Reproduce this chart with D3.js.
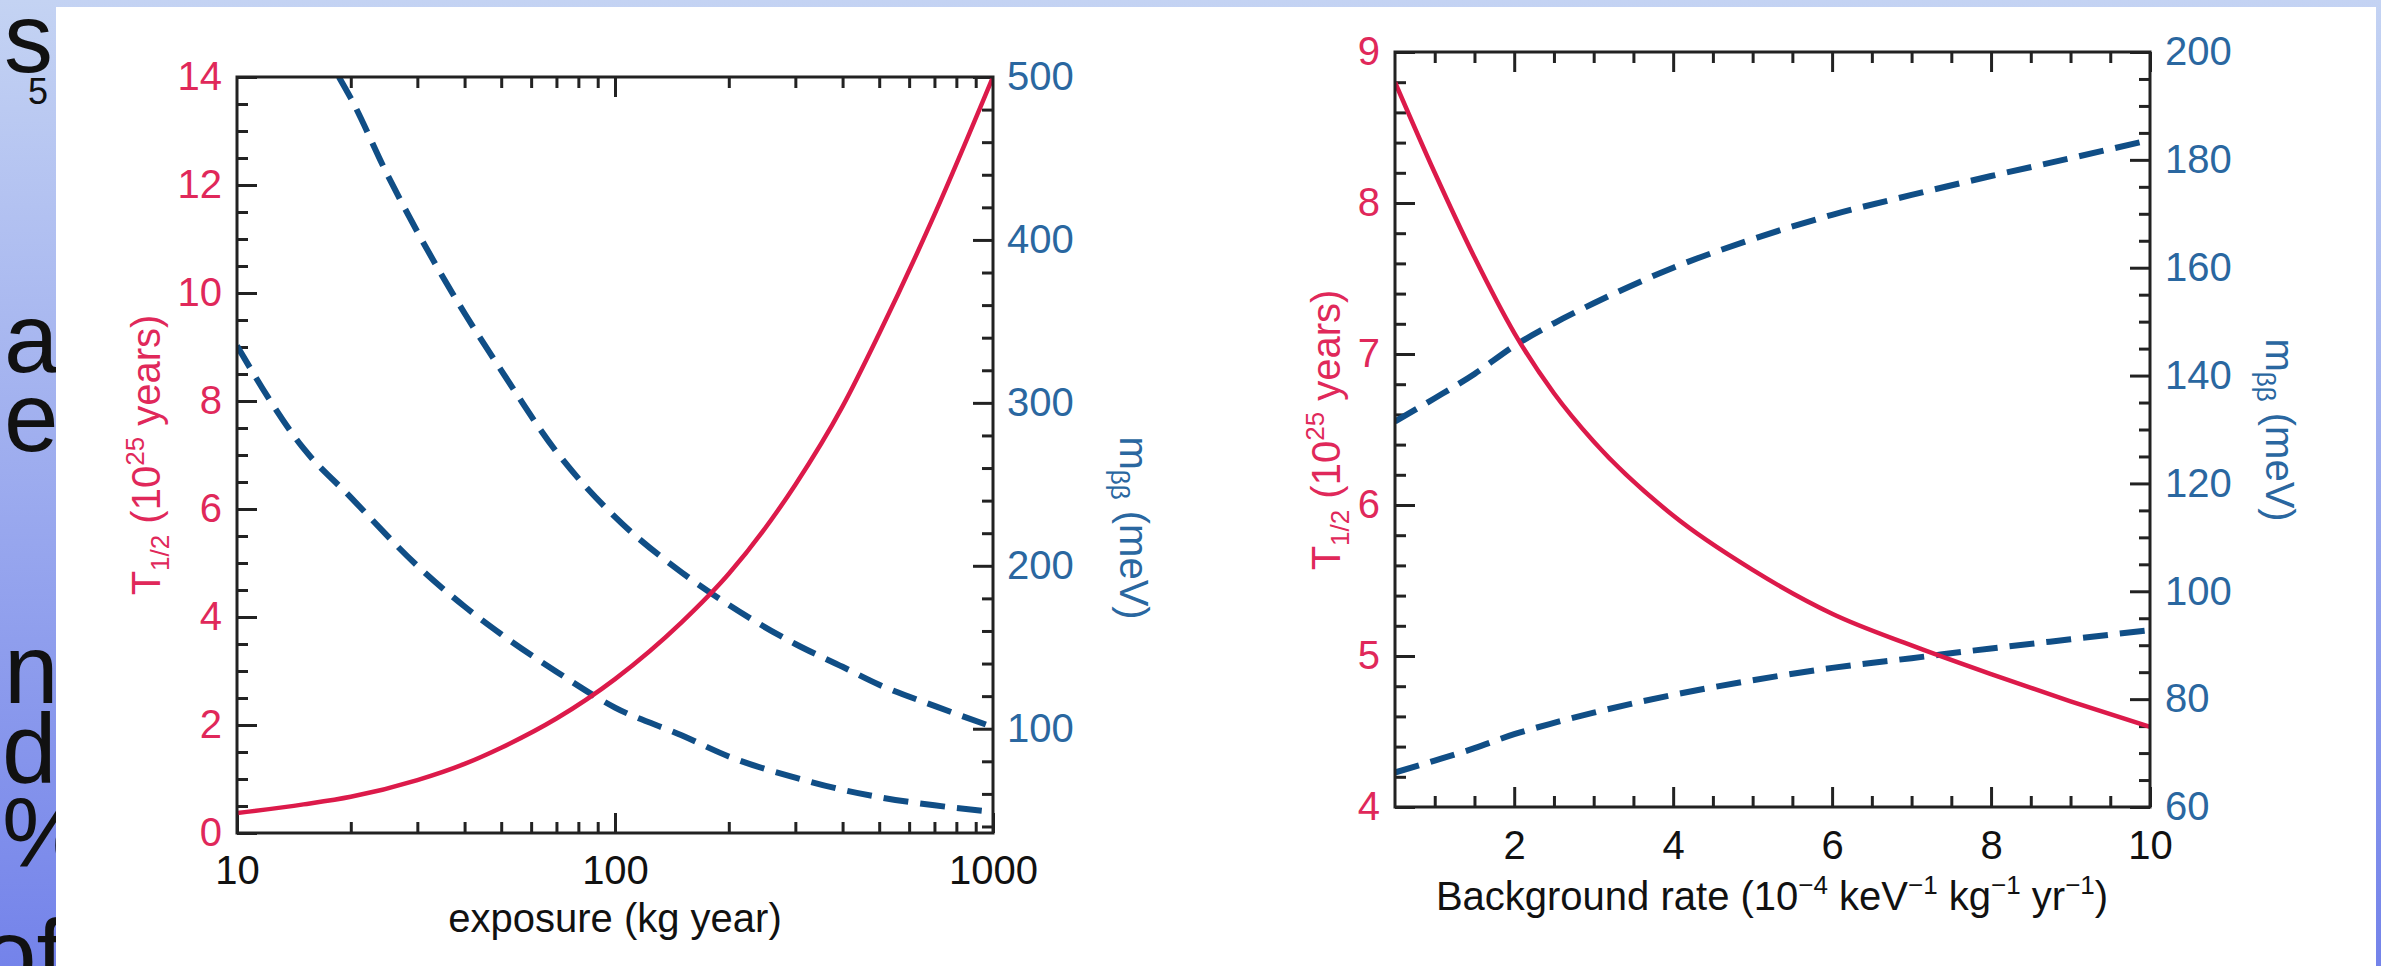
<!DOCTYPE html>
<html>
<head>
<meta charset="utf-8">
<script src="https://cdnjs.cloudflare.com/ajax/libs/d3/7.8.5/d3.min.js"></script>
<style>
  body { margin: 0; background: #fff; }
  svg { display: block; }
  text { font-family: "Liberation Sans", Arial, Helvetica, sans-serif; }
</style>
</head>
<body>
<script>
// left panel: sensitivity vs exposure (log x)
let exposure = [10, 15, 20, 30, 40, 50, 70, 100, 150, 200, 300, 400, 500, 700, 1000];
let halfLifeExp = [0.37, 0.53, 0.67, 0.98, 1.28, 1.58, 2.12, 2.85, 3.9, 4.8, 6.45, 7.9, 9.25, 11.45, 14.0];
let massLowerExp = [335, 272, 242, 200, 175, 158, 135, 113, 96, 83, 70, 62.5, 58, 53, 49];
let exposureUpper = [18.6, 20, 25, 30, 40, 50, 70, 100, 150, 200, 300, 400, 500, 700, 1000];
let massUpperExp = [500, 487, 440, 405, 355, 320, 270, 230, 196, 176, 152, 138, 127, 114, 101];

// right panel: sensitivity vs background rate
let bgRate = [0.5, 1, 1.5, 2, 2.5, 3, 4, 5, 6, 7, 8, 9, 10];
let halfLifeBg = [8.8, 8.2, 7.64, 7.14, 6.74, 6.42, 5.93, 5.57, 5.28, 5.07, 4.88, 4.70, 4.53];
let massUpperBg = [131.5, 135.8, 140.3, 145.5, 149.7, 153.4, 160.0, 165.3, 169.8, 173.5, 177.0, 180.3, 183.7];
let massLowerBg = [66.4, 68.6, 70.9, 73.5, 75.6, 77.5, 80.8, 83.5, 85.8, 87.6, 89.4, 91.1, 92.8];

// tick labels
let exposureTicks = [10, 100, 1000];
let halfLifeTicksExp = [0, 2, 4, 6, 8, 10, 12, 14];
let massTicksExp = [100, 200, 300, 400, 500];
let bgTicks = [2, 4, 6, 8, 10];
let halfLifeTicksBg = [4, 5, 6, 7, 8, 9];
let massTicksBg = [60, 80, 100, 120, 140, 160, 180, 200];

let RED = '#dc1a4a', RED_TXT = '#e0285a', BLUE = '#104e86', BLUE_TXT = '#2a67a0';
let fmt = d3.format('d');

let svg = d3.select('body').append('svg').attr('width', 2381).attr('height', 966);
let defs = svg.append('defs');

//---------------------------------------------------------------------------------------------------//
// slide behind the figure
let grad = defs.append('linearGradient').attr('id', 'slideBg')
    .attr('x1', 0).attr('y1', 0).attr('x2', 0).attr('y2', 1);
grad.append('stop').attr('offset', '0%').attr('stop-color', '#c4d3f3');
grad.append('stop').attr('offset', '100%').attr('stop-color', '#7483ea');
svg.append('rect').attr('width', 2381).attr('height', 966).attr('fill', 'url(#slideBg)');

let stripText = [
    { t: 's', x: 4, y: 72, s: 98 }, { t: '5', x: 28, y: 104, s: 36 },
    { t: 'a', x: 4, y: 372, s: 98 }, { t: 'e', x: 4, y: 451, s: 98 },
    { t: 'n', x: 4, y: 703, s: 98 }, { t: 'd', x: 2, y: 782, s: 98 },
    { t: '%', x: 2, y: 866, s: 98 }, { t: 'of', x: -18, y: 988, s: 98 }
];
svg.selectAll('text.strip').data(stripText).enter().append('text')
    .attr('class', 'strip')
    .attr('x', d => d.x).attr('y', d => d.y)
    .attr('font-size', d => d.s).attr('fill', '#111')
    .text(d => d.t);

svg.append('rect').attr('x', 56).attr('y', 7).attr('width', 2320).attr('height', 959).attr('fill', '#fff');

//---------------------------------------------------------------------------------------------------//
// helpers
function tickGroup(axis, tx, ty, color) {
    let g = svg.append('g').attr('transform', 'translate(' + tx + ',' + ty + ')').call(axis);
    g.select('.domain').remove();
    g.selectAll('.tick line').attr('stroke', '#222').attr('stroke-width', 3);
    g.selectAll('.tick text').attr('font-size', 40).attr('font-family', '"Liberation Sans", Arial, sans-serif')
        .attr('fill', color || '#111');
    return g;
}

function richText(parent, parts, tx, ty, rot, color) {
    let t = parent.append('text')
        .attr('transform', 'translate(' + tx + ',' + ty + ') rotate(' + rot + ')')
        .attr('text-anchor', 'middle').attr('font-size', 40).attr('fill', color);
    let shift = 0;
    parts.forEach(p => {
        let target = p.k === 'sub' ? 9 : p.k === 'sup' ? -16 : 0;
        t.append('tspan').attr('dy', target - shift).attr('font-size', p.k ? 26 : 40).text(p.t);
        shift = target;
    });
    return t;
}

function clipRect(id, x0, y0, x1, y1) {
    defs.append('clipPath').attr('id', id).append('rect')
        .attr('x', x0).attr('y', y0).attr('width', x1 - x0).attr('height', y1 - y0);
}

//---------------------------------------------------------------------------------------------------//
// left panel
let xL = d3.scaleLog().domain([10, 1000]).range([237, 993]);
let yLT = d3.scaleLinear().domain([0, 14]).range([833, 77]);
let yLM = d3.scaleLinear().domain([36, 500]).range([833, 77]);

let logMinor = [20, 30, 40, 50, 60, 70, 80, 90, 200, 300, 400, 500, 600, 700, 800, 900];
let tMinorL = d3.range(0.5, 14, 0.5).filter(v => v % 2 !== 0);
let mMinorL = d3.range(40, 500, 20).filter(v => v % 100 !== 0);

tickGroup(d3.axisBottom(xL).tickValues(exposureTicks).tickSize(-20).tickPadding(23).tickFormat(fmt), 0, 833);
tickGroup(d3.axisBottom(xL).tickValues(logMinor).tickSize(-11).tickFormat(''), 0, 833);
tickGroup(d3.axisTop(xL).tickValues([100]).tickSize(-20).tickFormat(''), 0, 77);
tickGroup(d3.axisTop(xL).tickValues(logMinor).tickSize(-11).tickFormat(''), 0, 77);
tickGroup(d3.axisLeft(yLT).tickValues(halfLifeTicksExp).tickSize(-20).tickPadding(15).tickFormat(fmt), 237, 0, RED_TXT);
tickGroup(d3.axisLeft(yLT).tickValues(tMinorL).tickSize(-11).tickFormat(''), 237, 0);
tickGroup(d3.axisRight(yLM).tickValues(massTicksExp).tickSize(-20).tickPadding(14).tickFormat(fmt), 993, 0, BLUE_TXT);
tickGroup(d3.axisRight(yLM).tickValues(mMinorL).tickSize(-11).tickFormat(''), 993, 0);

clipRect('clipL', 237, 77, 993, 833);
let plotL = svg.append('g').attr('clip-path', 'url(#clipL)');

let lineLT = d3.line().x(d => xL(d.x)).y(d => yLT(d.y)).curve(d3.curveMonotoneX);
let lineLM = d3.line().x(d => xL(d.x)).y(d => yLM(d.y)).curve(d3.curveMonotoneX);

plotL.append('path')
    .attr('d', lineLM(exposure.map((e, i) => ({ x: e, y: massLowerExp[i] }))))
    .attr('fill', 'none').attr('stroke', BLUE).attr('stroke-width', 6).attr('stroke-dasharray', '25,12');
plotL.append('path')
    .attr('d', lineLM(exposureUpper.map((e, i) => ({ x: e, y: massUpperExp[i] }))))
    .attr('fill', 'none').attr('stroke', BLUE).attr('stroke-width', 6).attr('stroke-dasharray', '25,12');
plotL.append('path')
    .attr('d', lineLT(exposure.map((e, i) => ({ x: e, y: halfLifeExp[i] }))))
    .attr('fill', 'none').attr('stroke', RED).attr('stroke-width', 4.5);

svg.append('rect').attr('x', 237).attr('y', 77).attr('width', 756).attr('height', 756)
    .attr('fill', 'none').attr('stroke', '#222').attr('stroke-width', 3);

richText(svg, [{ t: 'exposure (kg year)' }], 615, 932, 0, '#111');
richText(svg, [{ t: 'T' }, { t: '1/2', k: 'sub' }, { t: ' (10' }, { t: '25', k: 'sup' }, { t: ' years)' }], 160, 455, -90, RED_TXT);
richText(svg, [{ t: 'm' }, { t: 'ββ', k: 'sub' }, { t: ' (meV)' }], 1120, 528, 90, BLUE_TXT);

//---------------------------------------------------------------------------------------------------//
// right panel
let xR = d3.scaleLinear().domain([0.5, 10]).range([1395, 2150]);
let yRT = d3.scaleLinear().domain([4, 9]).range([807, 52]);
let yRM = d3.scaleLinear().domain([60, 200]).range([807, 52]);

let bgMinor = d3.range(1, 10, 0.5).filter(v => v % 2 !== 0);
let tMinorR = d3.range(4.2, 9, 0.2).filter(v => Math.abs(v - Math.round(v)) > 0.01);
let mMinorR = d3.range(65, 200, 5).filter(v => v % 20 !== 0);

tickGroup(d3.axisBottom(xR).tickValues(bgTicks).tickSize(-20).tickPadding(24).tickFormat(fmt), 0, 807);
tickGroup(d3.axisBottom(xR).tickValues(bgMinor).tickSize(-11).tickFormat(''), 0, 807);
tickGroup(d3.axisTop(xR).tickValues(bgTicks).tickSize(-20).tickFormat(''), 0, 52);
tickGroup(d3.axisTop(xR).tickValues(bgMinor).tickSize(-11).tickFormat(''), 0, 52);
tickGroup(d3.axisLeft(yRT).tickValues(halfLifeTicksBg).tickSize(-20).tickPadding(15).tickFormat(fmt), 1395, 0, RED_TXT);
tickGroup(d3.axisLeft(yRT).tickValues(tMinorR).tickSize(-11).tickFormat(''), 1395, 0);
tickGroup(d3.axisRight(yRM).tickValues(massTicksBg).tickSize(-20).tickPadding(15).tickFormat(fmt), 2150, 0, BLUE_TXT);
tickGroup(d3.axisRight(yRM).tickValues(mMinorR).tickSize(-11).tickFormat(''), 2150, 0);

clipRect('clipR', 1395, 52, 2150, 807);
let plotR = svg.append('g').attr('clip-path', 'url(#clipR)');

let lineRT = d3.line().x(d => xR(d.x)).y(d => yRT(d.y)).curve(d3.curveMonotoneX);
let lineRM = d3.line().x(d => xR(d.x)).y(d => yRM(d.y)).curve(d3.curveMonotoneX);

plotR.append('path')
    .attr('d', lineRM(bgRate.map((b, i) => ({ x: b, y: massUpperBg[i] }))))
    .attr('fill', 'none').attr('stroke', BLUE).attr('stroke-width', 6).attr('stroke-dasharray', '25,12');
plotR.append('path')
    .attr('d', lineRM(bgRate.map((b, i) => ({ x: b, y: massLowerBg[i] }))))
    .attr('fill', 'none').attr('stroke', BLUE).attr('stroke-width', 6).attr('stroke-dasharray', '25,12');
plotR.append('path')
    .attr('d', lineRT(bgRate.map((b, i) => ({ x: b, y: halfLifeBg[i] }))))
    .attr('fill', 'none').attr('stroke', RED).attr('stroke-width', 4.5);

svg.append('rect').attr('x', 1395).attr('y', 52).attr('width', 755).attr('height', 755)
    .attr('fill', 'none').attr('stroke', '#222').attr('stroke-width', 3);

richText(svg, [{ t: 'Background rate (10' }, { t: '−4', k: 'sup' }, { t: ' keV' }, { t: '−1', k: 'sup' },
    { t: ' kg' }, { t: '−1', k: 'sup' }, { t: ' yr' }, { t: '−1', k: 'sup' }, { t: ')' }], 1772, 910, 0, '#111');
richText(svg, [{ t: 'T' }, { t: '1/2', k: 'sub' }, { t: ' (10' }, { t: '25', k: 'sup' }, { t: ' years)' }], 1340, 430, -90, RED_TXT);
richText(svg, [{ t: 'm' }, { t: 'ββ', k: 'sub' }, { t: ' (meV)' }], 2266, 430, 90, BLUE_TXT);
</script>
</body>
</html>
